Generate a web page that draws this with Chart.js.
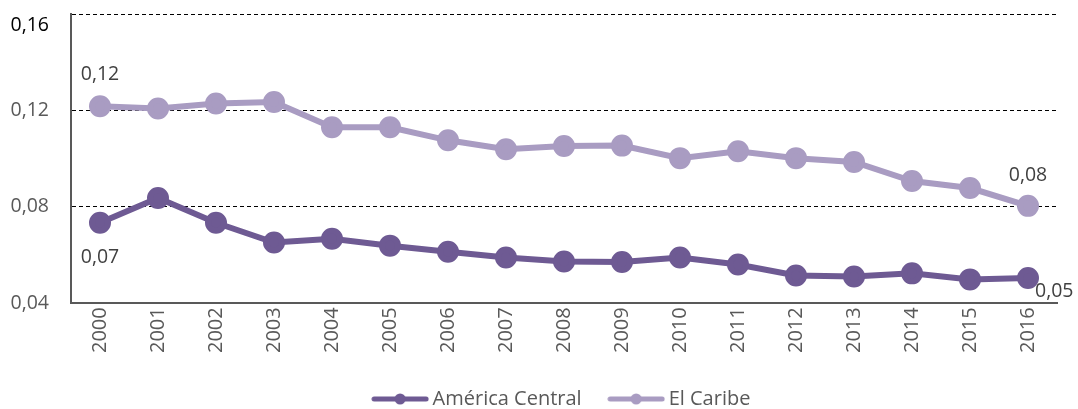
<!DOCTYPE html>
<html>
<head>
<meta charset="utf-8">
<script src="https://cdn.jsdelivr.net/npm/chart.js@4"></script>
<style>
  html, body { margin: 0; padding: 0; background: #fff; }
  #wrap { width: 1078px; height: 409px; }
</style>
</head>
<body>
<div id="wrap"><canvas id="grafico"></canvas></div>
<script>
const anos = ['2000','2001','2002','2003','2004','2005','2006','2007','2008','2009','2010','2011','2012','2013','2014','2015','2016'];
const americaCentral = [0.0734, 0.0837, 0.0734, 0.0652, 0.0668, 0.0639, 0.0614, 0.0590, 0.0573, 0.0571, 0.0590, 0.0561, 0.0515, 0.0511, 0.0524, 0.0499, 0.0505];
const elCaribe = [0.1217, 0.1208, 0.1229, 0.1235, 0.1130, 0.1130, 0.1076, 0.1039, 0.1052, 0.1054, 0.1002, 0.1031, 0.1002, 0.0986, 0.0907, 0.0878, 0.0804];
const yTicks = [0.04, 0.08, 0.12, 0.16];

const corEscura = '#6e5a93';
const corClara = '#a99cc2';
const cinza = '#595959';
const fonte = '"Open Sans", "Noto Sans", sans-serif';

// icone da legenda: linha com bolinha
function iconeLegenda(cor) {
    const c = document.createElement('canvas');
    c.width = 58; c.height = 14;
    const ctx = c.getContext('2d');
    ctx.strokeStyle = cor;
    ctx.lineWidth = 5;
    ctx.lineCap = 'round';
    ctx.beginPath();
    ctx.moveTo(3, 7); ctx.lineTo(55, 7);
    ctx.stroke();
    ctx.fillStyle = cor;
    ctx.beginPath();
    ctx.arc(29, 7, 5.5, 0, Math.PI * 2);
    ctx.fill();
    return c;
}

const fmt = v => v.toFixed(2).replace('.', ',');

// rotulos do primeiro e ultimo ponto
const rotulos = {
    id: 'rotulos',
    afterLayout(chart) {
        // centraliza a legenda sobre a area do grafico
        const lg = chart.legend, area = chart.chartArea;
        lg.left = area.left;
        lg.right = area.right;
        lg.width = area.right - area.left;
    },
    afterDatasetsDraw(chart) {
        const ctx = chart.ctx;
        ctx.save();
        ctx.font = '19.5px ' + fonte;
        ctx.fillStyle = '#404040';
        ctx.textBaseline = 'middle';
        const pos = [
            { ds: 0, i: 0, dx: 0, dy: 35, align: 'center' },
            { ds: 0, i: anos.length - 1, dx: 7, dy: 13, align: 'left' },
            { ds: 1, i: 0, dx: 0, dy: -32, align: 'center' },
            { ds: 1, i: anos.length - 1, dx: 0, dy: -30, align: 'center' }
        ];
        pos.forEach(p => {
            const pt = chart.getDatasetMeta(p.ds).data[p.i];
            const v = chart.data.datasets[p.ds].data[p.i];
            ctx.textAlign = p.align;
            ctx.fillText(fmt(v), pt.x + p.dx, pt.y + p.dy);
        });
        ctx.restore();
    }
};

new Chart(document.getElementById('grafico'), {
    type: 'line',
    data: {
        labels: anos,
        datasets: [
            {
                label: 'América Central',
                data: americaCentral,
                borderColor: corEscura,
                backgroundColor: corEscura,
                borderWidth: 6,
                pointRadius: 8,
                pointHoverRadius: 8,
                pointStyle: 'circle',
                tension: 0
            },
            {
                label: 'El Caribe',
                data: elCaribe,
                borderColor: corClara,
                backgroundColor: corClara,
                borderWidth: 6,
                pointRadius: 8,
                pointHoverRadius: 8,
                pointStyle: 'circle',
                tension: 0
            }
        ]
    },
    options: {
        responsive: true,
        maintainAspectRatio: false,
        animation: false,
        layout: { padding: { top: 5, right: 21, left: 10, bottom: -10 } },
        plugins: {
            legend: {
                position: 'bottom',
                labels: {
                    usePointStyle: true,
                    pointStyleWidth: 45,
                    generateLabels: chart => chart.data.datasets.map((d, i) => ({
                        text: d.label,
                        pointStyle: iconeLegenda(d.borderColor),
                        fillStyle: d.borderColor,
                        strokeStyle: d.borderColor,
                        lineWidth: 0,
                        fontColor: cinza,
                        datasetIndex: i
                    })),
                    font: { family: fonte, size: 20 },
                    color: cinza,
                    padding: 32
                }
            },
            tooltip: { enabled: false }
        },
        scales: {
            x: {
                offset: true,
                grid: { display: false, drawTicks: false },
                border: { color: cinza, width: 2 },
                afterFit: axis => { axis.paddingLeft = 0; axis.paddingRight = 0; },
                ticks: {
                    minRotation: 90,
                    maxRotation: 90,
                    padding: 4,
                    color: cinza,
                    font: { family: fonte, size: 20 }
                }
            },
            y: {
                min: 0.04,
                max: 0.16,
                afterBuildTicks: axis => { axis.ticks = yTicks.map(v => ({ value: v })); },
                afterFit: axis => { axis.paddingTop = 0; axis.paddingBottom = 0; axis.width = 61; },
                grid: {
                    drawTicks: false,
                    color: ctx => ctx.tick && ctx.tick.value === 0.04 ? 'rgba(0,0,0,0)' : '#000',
                    lineWidth: 1
                },
                border: { color: cinza, width: 2, dash: [4, 3], display: true },
                ticks: {
                    padding: 22,
                    color: ctx => ctx.tick.value === 0.16 ? '#000' : cinza,
                    font: { family: fonte, size: 19.5 },
                    // o rotulo do topo fica um pouco abaixo da linha
                    callback: v => v === 0.16 ? ['', fmt(v)] : fmt(v)
                }
            }
        }
    },
    plugins: [rotulos]
});
</script>
</body>
</html>
